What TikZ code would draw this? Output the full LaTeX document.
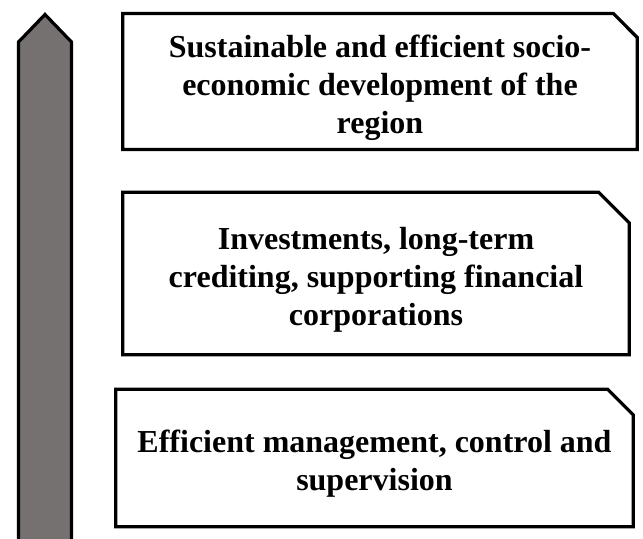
\documentclass[tikz,border=0pt]{standalone}
\usepackage{fontspec}
\setmainfont{Liberation Serif}
\usetikzlibrary{shapes.misc}
\definecolor{arrowgray}{RGB}{118,113,113}
\begin{document}
\begin{tikzpicture}[x=0.75pt,y=-0.75pt,
    level/.style={chamfered rectangle,chamfered rectangle corners=north east,
      draw,line width=2.4pt,inner sep=25pt},
    leveltext/.style={align=center,inner sep=0pt,
      font=\fontsize{24}{28.5}\selectfont\bfseries}]
  \useasboundingbox (0,0) rectangle (643,539);
  \clip (0,0) rectangle (643,539);

  % rising arrow
  \draw[line width=2.4pt,fill=arrowgray,line join=miter]
    (18.5,560) -- (18.5,42) -- (45,14.5) -- (71.5,42) -- (71.5,560);

  \node[level,minimum width=386pt,minimum height=102pt,chamfered rectangle xsep=15pt]
    (goal) at (380,81.5) {};
  \node[leveltext] (goaltext) at ([yshift=-4.5pt]goal.center)
    {Sustainable and efficient socio-\\economic development of the\\region};
  \node[level,minimum width=380pt,minimum height=122pt,chamfered rectangle xsep=20pt]
    (invest) at (376,273.5) {};
  \node[leveltext] (investtext) at ([yshift=-4.5pt]invest.center)
    {Investments, long-term\\crediting, supporting financial\\corporations};
  \node[level,minimum width=388pt,minimum height=103pt,chamfered rectangle xsep=16pt]
    (manage) at (374.5,458) {};
  \node[leveltext] (managetext) at ([yshift=-4.5pt]manage.center)
    {Efficient management, control and\\supervision};
\end{tikzpicture}
\end{document}
